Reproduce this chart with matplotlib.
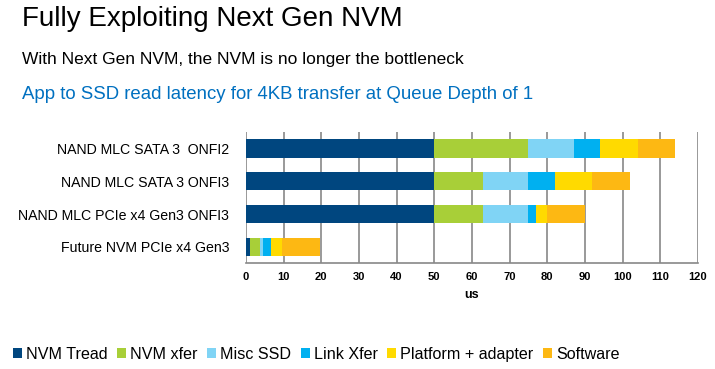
import matplotlib
matplotlib.use("Agg")
import matplotlib.pyplot as plt
import numpy as np

# ── data ─────────────────────────────────────────────────────────────────
categories = ["NAND MLC SATA 3  ONFI2",
              "NAND MLC SATA 3 ONFI3",
              "NAND MLC PCIe x4 Gen3 ONFI3",
              "Future NVM PCIe x4 Gen3"]
series = ["NVM Tread", "NVM xfer", "Misc SSD", "Link Xfer",
          "Platform + adapter", "Software"]
nvm_tread = [50, 50, 50, 1]
nvm_xfer = [25, 13, 13, 2.8]
misc_ssd = [12, 12, 12, 0.8]
link_xfer = [7, 7, 2, 2.1]
platform = [10, 10, 3, 2.9]
software = [10, 10, 10, 10]
x_ticks = list(range(0, 121, 10))

colors = ["#00467F", "#A8CF38", "#80D4F5", "#00B0F0", "#FFDA00", "#FDB813"]

plt.rcParams["font.family"] = ["Liberation Sans", "DejaVu Sans"]

fig = plt.figure(figsize=(7.15, 3.69), dpi=100)
ax = fig.add_axes([0.344, 0.2864, 0.632, 0.3564])

values = [nvm_tread, nvm_xfer, misc_ssd, link_xfer, platform, software]
y = np.arange(len(categories))
left = np.zeros(len(categories))
for name, vals, c in zip(series, values, colors):
    ax.barh(y, vals, left=left, height=0.57, color=c, label=name, zorder=3)
    left += np.array(vals)

ax.set_ylim(len(categories) - 0.5, -0.5)
ax.set_xlim(0, 120)
ax.set_xticks(x_ticks)
ax.set_xticklabels([str(t) for t in x_ticks], fontsize=8, fontweight="bold")
ax.set_yticks(y)
ax.set_yticklabels(categories, fontsize=10.2)
ax.tick_params(axis="x", length=0, pad=6)
ax.tick_params(axis="y", length=0, pad=12)
ax.grid(axis="x", color="#888888", linewidth=1.2, zorder=0)
for s in ["top", "right", "left"]:
    ax.spines[s].set_visible(False)
ax.spines["bottom"].set_color("#888888")
ax.spines["bottom"].set_linewidth(1.2)
ax.set_xlabel("us", fontsize=9, fontweight="bold", labelpad=5)

fig.text(0.031, 0.948, "Fully Exploiting Next Gen NVM", fontsize=20,
         va="center", ha="left")
fig.text(0.031, 0.838, "With Next Gen NVM, the NVM is no longer the bottleneck",
         fontsize=12.5, va="center", ha="left")
fig.text(0.031, 0.744, "App to SSD read latency for 4KB transfer at Queue Depth of 1",
         fontsize=13.4, va="center", ha="left", color="#0070C0")

fig.legend(loc="center left", bbox_to_anchor=(0.009, 0.04), ncol=6,
           frameon=False, fontsize=11.6, handlelength=0.55, handleheight=0.55,
           handletextpad=0.25, columnspacing=0.6, borderaxespad=0)

fig.savefig("out.png", dpi=100)
